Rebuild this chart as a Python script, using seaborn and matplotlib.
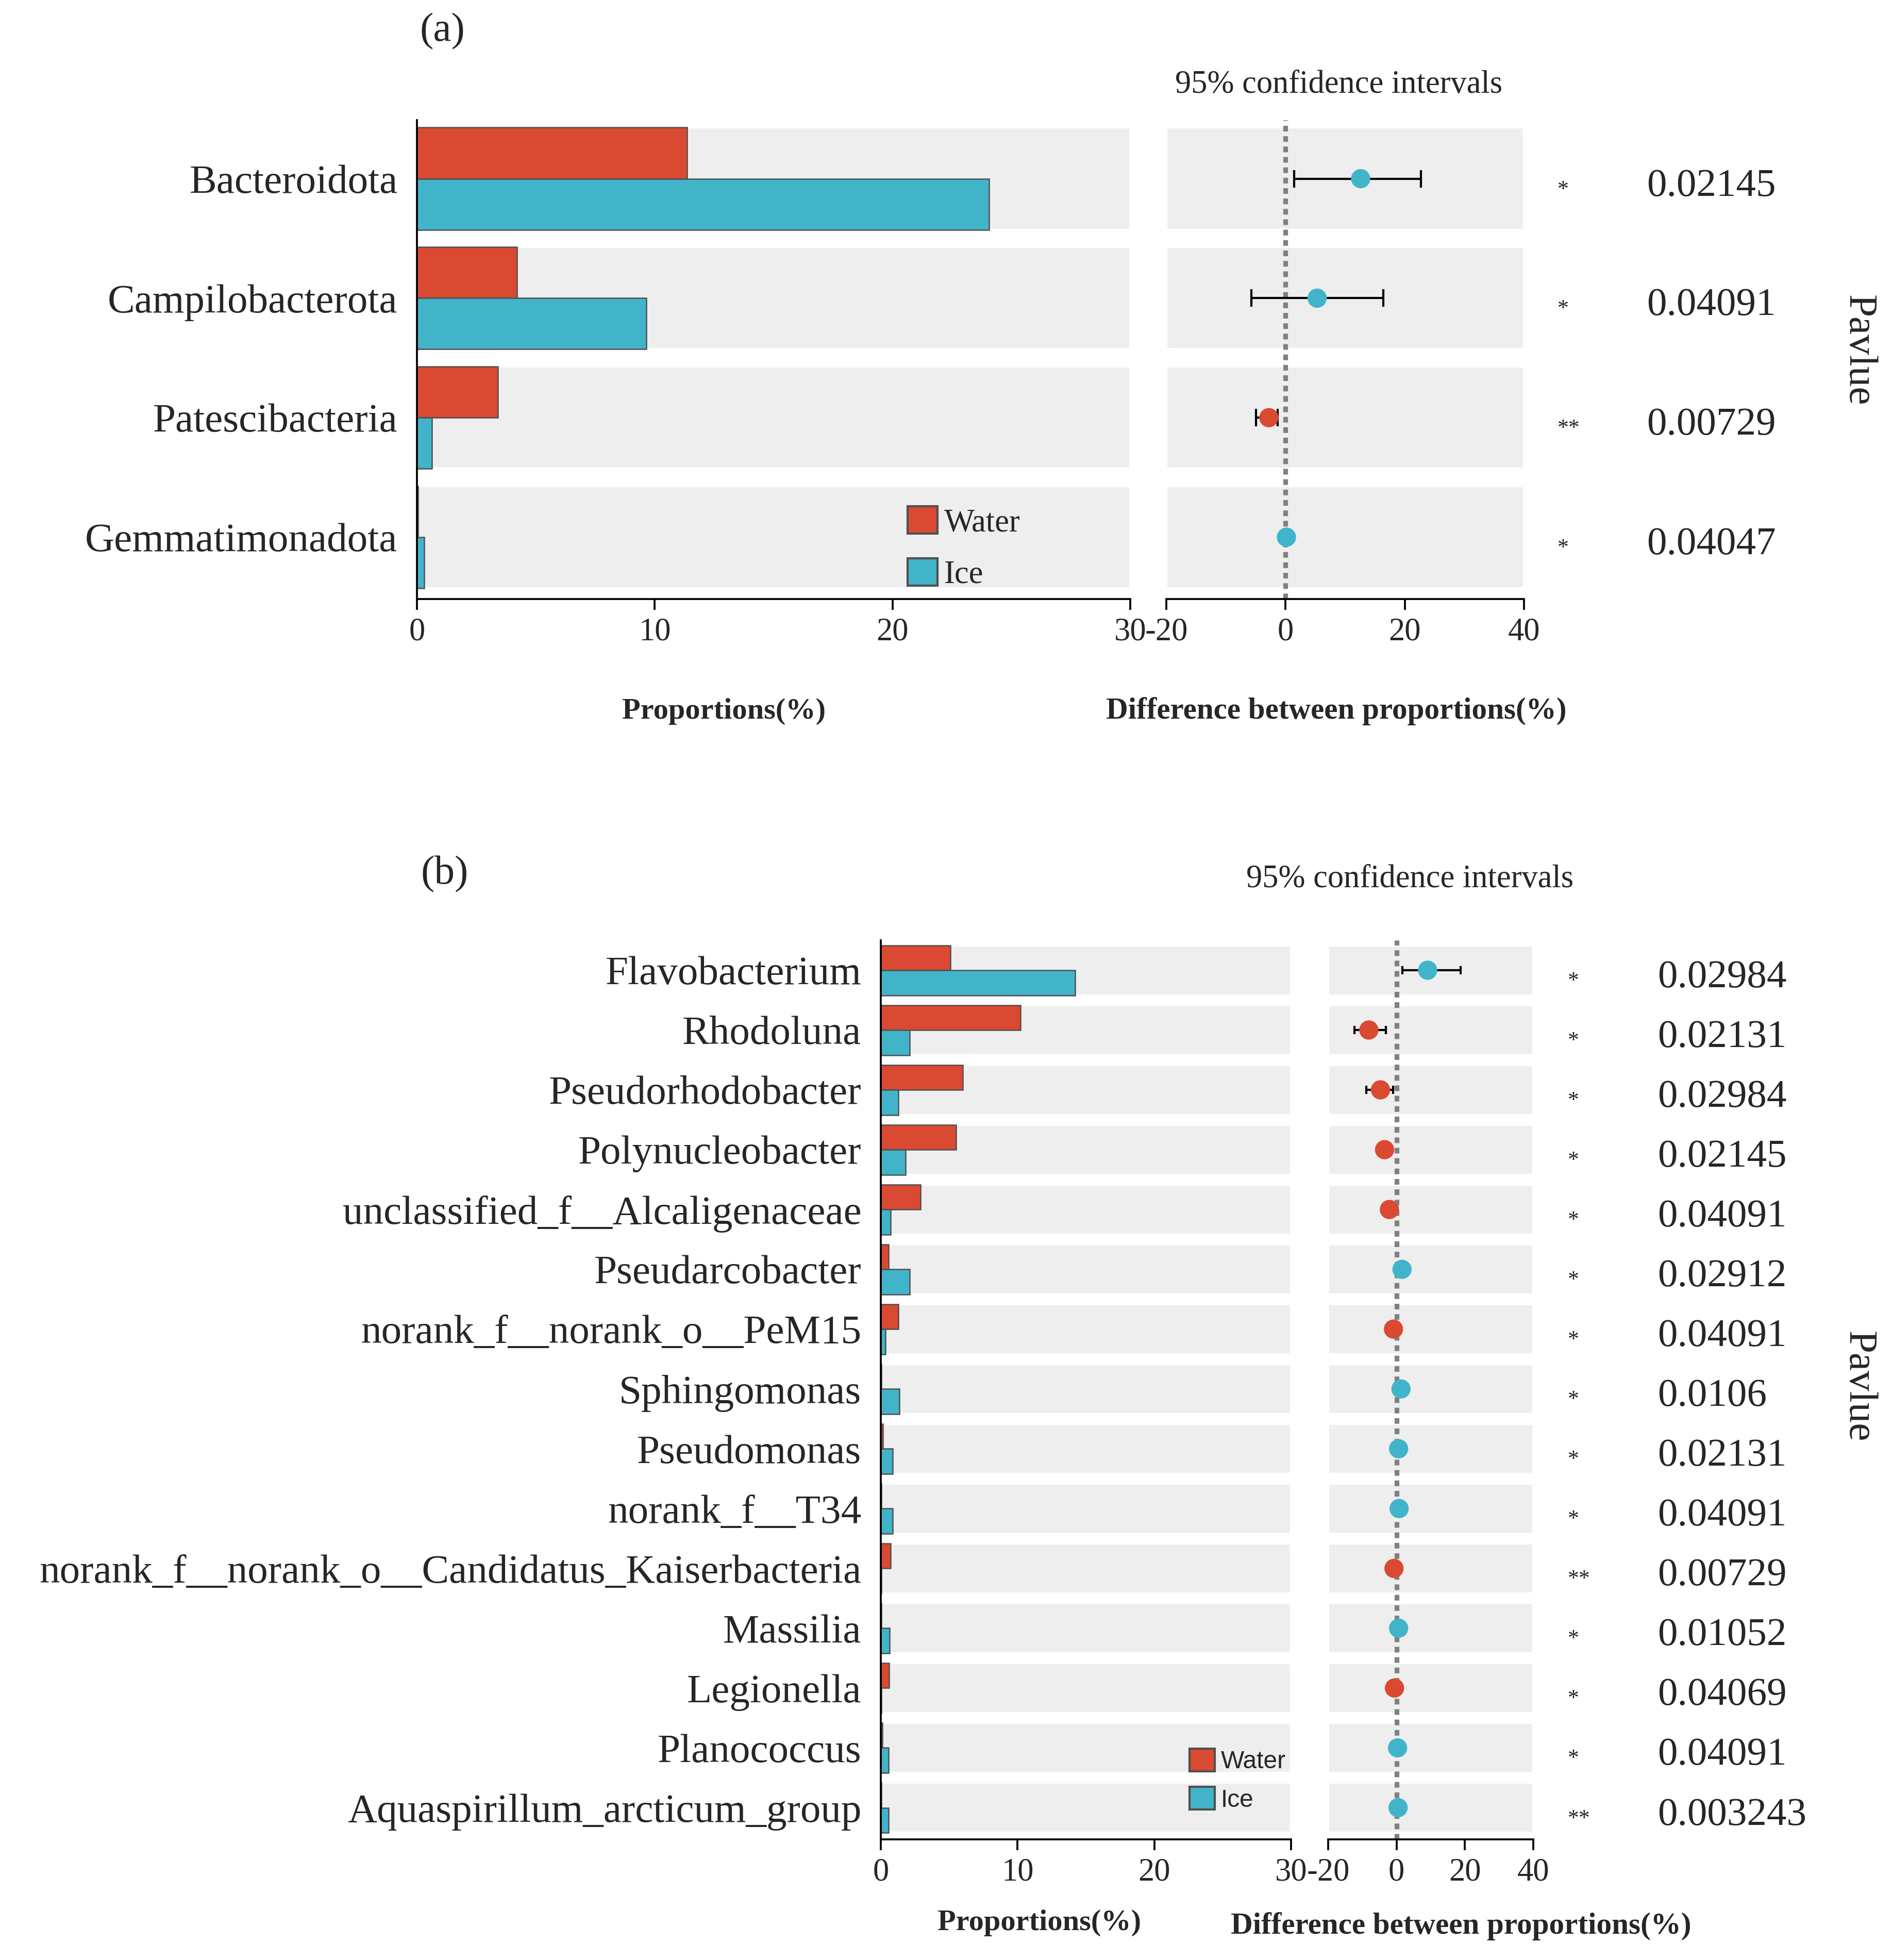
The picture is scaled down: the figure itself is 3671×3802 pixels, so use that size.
import numpy as np
import pandas as pd
import matplotlib.pyplot as plt
import matplotlib.transforms as mtrans
from matplotlib.patches import Patch
import seaborn as sns

# --- data: phylum level, panel (a) ---
phylum = ['Bacteroidota', 'Campilobacterota', 'Patescibacteria', 'Gemmatimonadota']
phylum_water = [11.35, 4.2, 3.4, 0.05]
phylum_ice = [24.05, 9.65, 0.62, 0.3]
phylum_diff = [12.6, 5.3, -2.8, 0.15]
phylum_ci_low = [1.4, -5.7, -5.0, np.nan]
phylum_ci_high = [22.7, 16.4, -1.3, np.nan]
phylum_stars = ['*', '*', '**', '*']
phylum_p = ['0.02145', '0.04091', '0.00729', '0.04047']

# --- data: genus level, panel (b) ---
genus = ['Flavobacterium', 'Rhodoluna', 'Pseudorhodobacter', 'Polynucleobacter',
         'unclassified_f__Alcaligenaceae', 'Pseudarcobacter', 'norank_f__norank_o__PeM15',
         'Sphingomonas', 'Pseudomonas', 'norank_f__T34',
         'norank_f__norank_o__Candidatus_Kaiserbacteria', 'Massilia', 'Legionella',
         'Planococcus', 'Aquaspirillum_arcticum_group']
genus_water = [5.1, 10.2, 6.0, 5.5, 2.9, 0.55, 1.3, 0.05, 0.15, 0.05, 0.7, 0.05, 0.6, 0.1, 0.05]
genus_ice = [14.2, 2.1, 1.3, 1.8, 0.7, 2.1, 0.35, 1.35, 0.85, 0.85, 0.05, 0.65, 0.05, 0.55, 0.57]
genus_diff = [9.1, -8.1, -4.7, -3.5, -2.1, 1.6, -0.9, 1.3, 0.6, 0.75, -0.75, 0.6, -0.6, 0.3, 0.45]
genus_ci_low = [1.7, -12.3, -8.9] + [np.nan] * 12
genus_ci_high = [18.7, -3.1, -1.0] + [np.nan] * 12
genus_stars = ['*'] * 10 + ['**', '*', '*', '*', '**']
genus_p = ['0.02984', '0.02131', '0.02984', '0.02145', '0.04091', '0.02912', '0.04091',
           '0.0106', '0.02131', '0.04091', '0.00729', '0.01052', '0.04069', '0.04091', '0.003243']

RED = '#DA4932'
BLUE = '#41B4CA'
GRAY = '#EEEEEE'
PAL = {'Water': RED, 'Ice': BLUE}

sns.set_style('white')
plt.rcParams['font.family'] = ['Liberation Serif', 'DejaVu Serif']
plt.rcParams['axes.unicode_minus'] = False
plt.rcParams['axes.linewidth'] = 0.9

W, H = 3671, 3802
fig = plt.figure(figsize=(W / 300, H / 300), dpi=300)


def fx(px):
    return px / W


def fy(py):
    return 1 - py / H


def frame(x0, x1, ytop, ybot):
    return [fx(x0), fy(ybot), fx(x1) - fx(x0), fy(ytop) - fy(ybot)]


def style_x(ax):
    for s in ['top', 'right', 'left']:
        ax.spines[s].set_visible(False)
    ax.spines['bottom'].set_color('black')
    ax.tick_params(axis='x', bottom=True, direction='out', length=5, width=0.9,
                   color='black', labelsize=15, pad=3.5)
    ax.set_xlabel('')
    ax.set_ylabel('')


def draw_panel(ax_bar, ax_diff, names, water, ice, diff, lo, hi, stars, pvals,
               band_h, ylim, capsize, star_x, p_x):
    n = len(names)
    pos = np.arange(n)

    # proportions
    df = pd.DataFrame({'taxon': names * 2,
                       'group': ['Water'] * n + ['Ice'] * n,
                       'value': water + ice})
    sns.barplot(data=df, x='value', y='taxon', hue='group', hue_order=['Water', 'Ice'],
                palette=PAL, saturation=1, width=band_h, gap=0, edgecolor='#505050',
                linewidth=0.6, legend=False, ax=ax_bar, zorder=2)
    ax_bar.barh(pos, 30, left=0, height=band_h, color=GRAY, zorder=0)
    ax_bar.set_xlim(0, 30)
    ax_bar.set_xticks([0, 10, 20, 30])
    ax_bar.set_ylim(*ylim)
    style_x(ax_bar)
    ax_bar.spines['left'].set_visible(True)
    ax_bar.spines['left'].set_color('black')
    ax_bar.tick_params(axis='y', left=False, labelsize=19, pad=5.5)

    # differences with CI
    diff = np.array(diff)
    lo = np.array(lo)
    hi = np.array(hi)
    ax_diff.barh(pos, 60, left=-20, height=band_h, color=GRAY, zorder=0)
    ax_diff.axvline(0, color='#808080', lw=2.2, ls=(0, (1.2, 1.0)), zorder=1)
    ok = ~np.isnan(lo)
    ax_diff.errorbar(diff[ok], pos[ok], xerr=[diff[ok] - lo[ok], hi[ok] - diff[ok]],
                     fmt='none', ecolor='black', elinewidth=1.0, capsize=capsize,
                     capthick=1.0, zorder=2)
    dd = pd.DataFrame({'diff': diff, 'pos': pos,
                       'side': np.where(diff > 0, 'Ice', 'Water')})
    sns.scatterplot(data=dd, x='diff', y='pos', hue='side', palette=PAL, s=80,
                    linewidth=0, legend=False, ax=ax_diff, zorder=3)
    ax_diff.set_xlim(-20, 40)
    ax_diff.set_xticks([-20, 0, 20, 40])
    ax_diff.set_ylim(*ylim)
    ax_diff.set_yticks([])
    style_x(ax_diff)

    # stars and p values beside each row
    base = mtrans.blended_transform_factory(fig.transFigure, ax_diff.transData)
    trans = base + mtrans.ScaledTranslation(0, -33 / 300, fig.dpi_scale_trans)
    for k in range(n):
        fig.text(fx(star_x), k, stars[k], transform=trans, ha='left', va='baseline',
                 fontsize=10.5)
        fig.text(fx(p_x), k, pvals[k], transform=trans, ha='left', va='baseline',
                 fontsize=18.5)


# panel (a)
a_bar = fig.add_axes(frame(809, 2193, 233, 1162))
a_diff = fig.add_axes(frame(2263, 2957, 233, 1162))
draw_panel(a_bar, a_diff, phylum, phylum_water, phylum_ice, phylum_diff,
           phylum_ci_low, phylum_ci_high, phylum_stars, phylum_p,
           band_h=0.855, ylim=(3.518, -0.49), capsize=4, star_x=3022, p_x=3195)
a_bar.legend(handles=[Patch(facecolor=RED, edgecolor='#505050', lw=1.0),
                      Patch(facecolor=BLUE, edgecolor='#505050', lw=1.0)],
             labels=['Water', 'Ice'], loc='upper left',
             bbox_to_anchor=(fx(1761), fy(982)), bbox_transform=fig.transFigure,
             frameon=False, fontsize=15, handlelength=0.93, handleheight=0.93,
             handletextpad=0.2, labelspacing=0.62, borderpad=0, borderaxespad=0)

fig.text(fx(858), fy(61), '(a)', ha='center', va='center', fontsize=19)
fig.text(fx(2598), fy(165), '95% confidence intervals', ha='center', va='center', fontsize=15)
fig.text(fx(1405), fy(1380), 'Proportions(%)', ha='center', va='center',
         fontsize=14, fontweight='bold')
fig.text(fx(2593), fy(1380), 'Difference between proportions(%)', ha='center', va='center',
         fontsize=14.2, fontweight='bold')
fig.text(fx(3606), fy(680), 'Pavlue', rotation=-90, ha='center', va='center', fontsize=19)

# panel (b)
b_bar = fig.add_axes(frame(1709, 2505, 1824, 3568))
b_diff = fig.add_axes(frame(2577, 2975, 1824, 3568))
draw_panel(b_bar, b_diff, genus, genus_water, genus_ice, genus_diff,
           genus_ci_low, genus_ci_high, genus_stars, genus_p,
           band_h=0.836, ylim=(14.53, -0.5), capsize=2, star_x=3042, p_x=3216)
b_bar.legend(handles=[Patch(facecolor=RED, edgecolor='#505050', lw=1.0),
                      Patch(facecolor=BLUE, edgecolor='#505050', lw=1.0)],
             labels=['Water', 'Ice'], loc='upper left',
             bbox_to_anchor=(fx(2308), fy(3392)), bbox_transform=fig.transFigure,
             frameon=False, prop={'family': 'Liberation Sans', 'size': 11.5},
             handlelength=1.02, handleheight=1.02, handletextpad=0.25,
             labelspacing=0.55, borderpad=0, borderaxespad=0)

fig.text(fx(863), fy(1696), '(b)', ha='center', va='center', fontsize=19)
fig.text(fx(2736), fy(1706), '95% confidence intervals', ha='center', va='center', fontsize=15)
fig.text(fx(2017), fy(3730), 'Proportions(%)', ha='center', va='center',
         fontsize=14, fontweight='bold')
fig.text(fx(2835), fy(3737), 'Difference between proportions(%)', ha='center', va='center',
         fontsize=14.2, fontweight='bold')
fig.text(fx(3606), fy(2690), 'Pavlue', rotation=-90, ha='center', va='center', fontsize=19)

fig.savefig('out.png', dpi=300)
